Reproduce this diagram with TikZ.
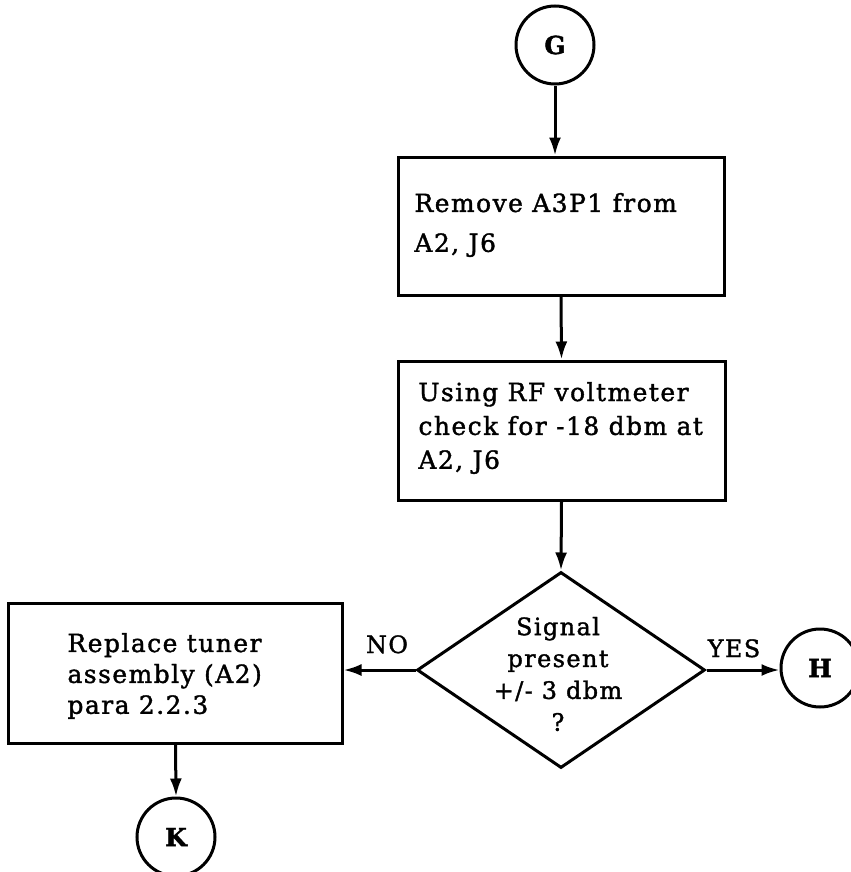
\documentclass[tikz,border=0pt]{standalone}
\usepackage{fontspec}
\setmainfont{DejaVu Serif}[LetterSpace=6,FakeBold=1.5]
\usetikzlibrary{shapes.geometric,arrows.meta}
\begin{document}
\begin{tikzpicture}[x=1bp,y=-1bp,
  line width=3bp,
  every node/.style={inner sep=0pt},
  procbox/.style={draw,rectangle},
  conn/.style={draw,circle,minimum size=78bp,font=\bfseries\fontsize{25}{28}\selectfont},
  decision/.style={draw,diamond,minimum width=288bp,minimum height=196bp},
  txt/.style={align=left,font=\fontsize{25}{40}\selectfont,anchor=west},
  lbl/.style={font=\fontsize{24}{26}\selectfont,anchor=base},
  flow/.style={-{Latex[length=18bp,width=12bp]}}
]
\useasboundingbox[fill=white] (0,0) rectangle (851,872);
% nodes
\node[conn] (G) at (555,45) {G};
\node[procbox,minimum width=326bp,minimum height=138bp] (b1) at (561,226) {};
\node[txt] (t1) at (413,225) {Remove A3P1 from\\A2, J6};
\node[procbox,minimum width=327bp,minimum height=139bp] (b2) at (561.5,430.5) {};
\node[txt,font=\fontsize{25}{34}\selectfont] (t2) at (417,428) {Using RF voltmeter\\check for -18 dbm at\\A2, J6};
\node[decision] (d) at (561,670) {};
\node[align=center,font=\fontsize{24}{32}\selectfont] (dt) at (558,674) {Signal\\present\\+/- 3 dbm\\?};
\node[procbox,minimum width=333bp,minimum height=140bp] (b3) at (175.5,673) {};
\node[txt,font=\fontsize{25}{31}\selectfont] (t3) at (66,676) {Replace tuner\\assembly (A2)\\para 2.2.3};
\node[conn] (H) at (820,668) {H};
\node[conn] (K) at (176,837) {K};
\node[lbl] (no) at (387,653) {NO};
\node[lbl] (yes) at (734,657) {YES};
% connectors
\draw[flow] (G.south) -- (G.south |- b1.north);
\draw[flow] (b1.south) -- (b2.north);
\draw[flow] (b2.south) -- (d.north);
\draw[flow] (d.west) -- (d.west -| b3.east);
\draw[flow] (d.east) -- (d.east -| H.west);
\draw[flow] (b3.south) -- (K.north);
\end{tikzpicture}
\end{document}
